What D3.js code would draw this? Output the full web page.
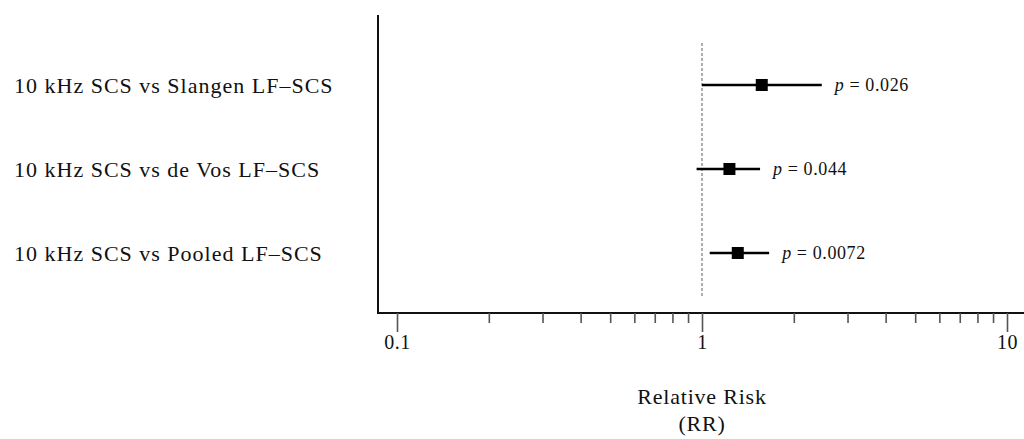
<!DOCTYPE html>
<html>
<head>
  <meta charset="utf-8">
  <title>Relative Risk</title>
  <style>
    body { margin: 0; background: #fff; }
    text { font-family: "Liberation Serif", "DejaVu Serif", serif; fill: #111; }
  </style>
</head>
<body>
  <svg width="1024" height="439"></svg>
  <script src="https://cdnjs.cloudflare.com/ajax/libs/d3/7.8.5/d3.min.js"></script>
  <script>
    // comparisons, top to bottom
    const comparisons = [
      "10 kHz SCS vs Slangen LF\u2013SCS",
      "10 kHz SCS vs de Vos LF\u2013SCS",
      "10 kHz SCS vs Pooled LF\u2013SCS"
    ];
    const rr    = [1.57, 1.23, 1.31];
    const lower = [1.00, 0.96, 1.06];
    const upper = [2.47, 1.55, 1.66];
    const pLabels = ["0.026", "0.044", "0.0072"];
    const majorTicks = [0.1, 1, 10];
    const minorTicks = [0.2, 0.3, 0.4, 0.5, 0.6, 0.7, 0.8, 0.9, 2, 3, 4, 5, 6, 7, 8, 9];

    const svg = d3.select("svg");
    const axisY = 313, axisLeft = 378, axisRight = 1024;

    let x = d3.scaleLog().domain([0.1, 10]).range([397, 1007]);
    let y = d3.scalePoint().domain(comparisons).range([85, 253]);

    // axes lines
    svg.append("line")
       .attr("x1", axisLeft).attr("x2", axisLeft)
       .attr("y1", 15).attr("y2", axisY)
       .attr("stroke", "#111").attr("stroke-width", 2);
    svg.append("line")
       .attr("x1", axisLeft - 1).attr("x2", axisRight)
       .attr("y1", axisY).attr("y2", axisY)
       .attr("stroke", "#111").attr("stroke-width", 2);

    // ticks
    let xAxis = d3.axisBottom(x).tickValues(majorTicks)
                  .tickSize(19).tickPadding(3)
                  .tickFormat(d3.format("~g"));
    let gx = svg.append("g").attr("transform", "translate(0," + axisY + ")").call(xAxis);
    gx.select(".domain").remove();
    gx.selectAll("line").attr("stroke", "#555").attr("stroke-width", 1.6);
    gx.selectAll("text").attr("font-size", 20).attr("letter-spacing", 0.5)
      .style("font-family", "'Liberation Serif', serif").attr("fill", "#111");

    let gm = svg.append("g").attr("transform", "translate(0," + axisY + ")")
                .call(d3.axisBottom(x).tickValues(minorTicks).tickSize(10).tickFormat(""));
    gm.select(".domain").remove();
    gm.selectAll("line").attr("stroke", "#555").attr("stroke-width", 1.6);

    // reference line at RR = 1
    svg.append("line")
       .attr("x1", x(1)).attr("x2", x(1))
       .attr("y1", 43).attr("y2", 296)
       .attr("stroke", "#777").attr("stroke-width", 1.2)
       .attr("stroke-dasharray", "3,2");

    // category labels
    svg.selectAll("text.cat")
       .data(comparisons)
       .enter().append("text")
       .attr("class", "cat")
       .attr("x", 14)
       .attr("y", (d) => y(d))
       .attr("dy", "0.35em")
       .attr("font-size", 22)
       .attr("letter-spacing", 1)
       .text((d) => d);

    // confidence intervals and points
    let rows = svg.selectAll("g.row")
                  .data(comparisons)
                  .enter().append("g").attr("class", "row");

    rows.append("line")
        .attr("x1", (d, i) => x(lower[i]))
        .attr("x2", (d, i) => x(upper[i]))
        .attr("y1", (d) => y(d)).attr("y2", (d) => y(d))
        .attr("stroke", "#000").attr("stroke-width", 2.6);

    rows.append("rect")
        .attr("x", (d, i) => x(rr[i]) - 6)
        .attr("y", (d) => y(d) - 6)
        .attr("width", 12).attr("height", 12)
        .attr("fill", "#000");

    let pt = rows.append("text")
        .attr("x", (d, i) => x(upper[i]) + 13)
        .attr("y", (d) => y(d))
        .attr("dy", "0.35em")
        .attr("font-size", 18)
        .attr("letter-spacing", 0.6);
    pt.append("tspan").attr("font-style", "italic").text("p");
    pt.append("tspan").text((d, i) => " = " + pLabels[i]);

    // axis title
    svg.append("text")
       .attr("x", x(1)).attr("y", 396).attr("dy", "0.35em")
       .attr("text-anchor", "middle").attr("font-size", 22)
       .attr("letter-spacing", 0.8)
       .text("Relative Risk");
    svg.append("text")
       .attr("x", x(1)).attr("y", 423).attr("dy", "0.35em")
       .attr("text-anchor", "middle").attr("font-size", 22)
       .attr("letter-spacing", 0.8)
       .text("(RR)");
  </script>
</body>
</html>
